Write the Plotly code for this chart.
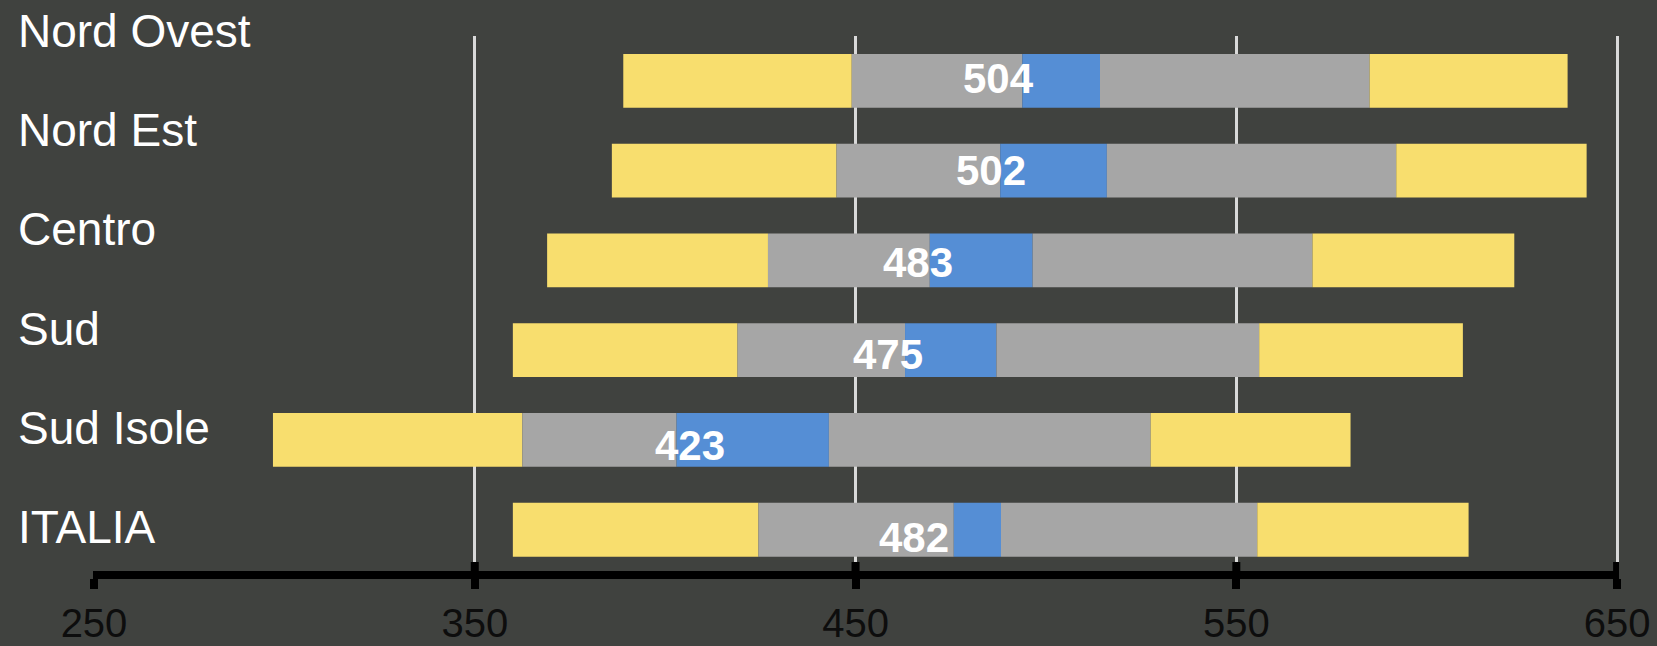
import plotly.graph_objects as go

# Regional score distributions: 5th/25th/75th/95th percentiles, mean and
# half-width of the confidence interval around the mean
regions = ["Nord Ovest", "Nord Est", "Centro", "Sud", "Sud Isole", "ITALIA"]
p5 = [389, 386, 369, 360, 297, 360]
p25 = [449, 445, 427, 419, 362.5, 424.5]
mean = [504, 502, 483, 475, 423, 482]
ci_half = [10.2, 14, 13.5, 12, 20, 6.2]
p75 = [585, 592, 570, 556, 527.5, 555.5]
p95 = [637, 642, 623, 609.5, 580, 611]
x_ticks = [250, 350, 450, 550, 650]

BG = "#40423f"
YELLOW = "#f8de6e"
GREY = "#a6a6a6"
BLUE = "#558ed5"

ci_lo = [m - h for m, h in zip(mean, ci_half)]
ci_hi = [m + h for m, h in zip(mean, ci_half)]

segments = [
    (p5, p25, YELLOW),
    (p25, ci_lo, GREY),
    (ci_lo, ci_hi, BLUE),
    (ci_hi, p75, GREY),
    (p75, p95, YELLOW),
]

fig = go.Figure()
for start, end, color in segments:
    fig.add_trace(go.Bar(
        y=regions,
        base=start,
        x=[e - s for s, e in zip(start, end)],
        orientation="h",
        width=0.6,
        marker=dict(color=color, line=dict(width=0)),
        hoverinfo="skip",
        showlegend=False,
    ))

annotations = []
# mean value labels
for i, (r, m) in enumerate(zip(regions, mean)):
    annotations.append(dict(
        x=m, y=r, xref="x", yref="y",
        text=f"<b>{m}</b>", showarrow=False,
        xanchor="center", yanchor="middle",
        xshift=-63, yshift=2 - 2 * i,
        font=dict(family="Liberation Sans, Arial, sans-serif", size=42, color="white"),
    ))

# region names down the left side
plot_top, plot_bottom = 36, 571
label_first, label_step = 31, 99.2
for i, r in enumerate(regions):
    ypx = label_first + label_step * i
    annotations.append(dict(
        x=0, xref="paper", xanchor="left", xshift=-78,
        y=(plot_bottom - ypx) / (plot_bottom - plot_top), yref="paper", yanchor="middle",
        text=r, showarrow=False,
        font=dict(family="Liberation Sans, Arial, sans-serif", size=46, color="white"),
    ))

# upper half of the crossing tick marks
shapes = []
for v in x_ticks[1:]:
    shapes.append(dict(
        type="line", xref="x", x0=v, x1=v,
        yref="paper", yanchor=0, ysizemode="pixel", y0=0, y1=9,
        line=dict(color="black", width=8), layer="above",
    ))

fig.update_layout(
    width=1657, height=646,
    margin=dict(l=94, r=38, t=plot_top, b=646 - plot_bottom, pad=0, autoexpand=False),
    paper_bgcolor=BG, plot_bgcolor=BG,
    barmode="overlay",
    annotations=annotations,
    shapes=shapes,
    xaxis=dict(
        range=[x_ticks[0], x_ticks[-1] + 0.5], tickvals=x_ticks,
        ticktext=[str(v) for v in x_ticks],
        showgrid=True, gridcolor="#d9d9d9", gridwidth=2.5,
        showline=True, linecolor="black", linewidth=8,
        ticks="outside", ticklen=10, tickwidth=8, tickcolor="black",
        tickfont=dict(family="Liberation Sans, Arial, sans-serif", size=40, color="#0d0d0d"),
        zeroline=False, fixedrange=True, automargin=False,
    ),
    yaxis=dict(
        type="category", categoryorder="array", categoryarray=regions,
        range=[5.46, -0.5],
        showticklabels=False, showgrid=False, zeroline=False,
        showline=True, linecolor="rgba(0,0,0,0)", linewidth=1,
        ticks="", fixedrange=True, automargin=False,
    ),
)

fig.write_html("out.html")
